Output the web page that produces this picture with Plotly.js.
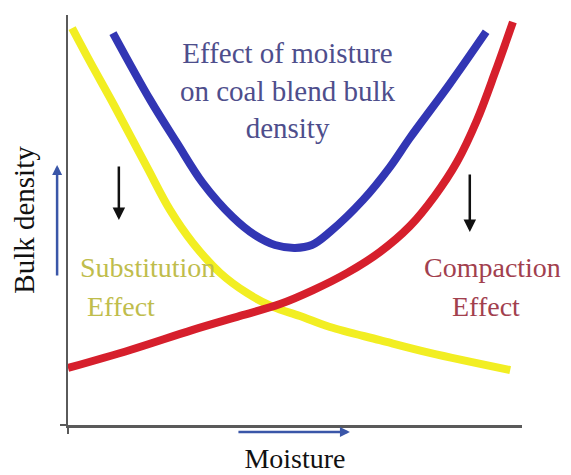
<!DOCTYPE html>
<html>
<head>
<meta charset="utf-8">
<script src="https://cdn.plot.ly/plotly-3.0.1.min.js"></script>
<style>html,body{margin:0;padding:0;background:#fff;}#chart{width:571px;height:475px;}</style>
</head>
<body>
<div id="chart"></div>
<script>
// Conceptual curves (moisture 0-10, bulk density 0-10)
const yellowX = [0.09, 0.49, 1.00, 1.74, 2.25, 2.75, 3.35, 3.94, 4.52, 5.11, 5.77, 6.87, 7.97, 9.74];
const yellowY = [9.68, 8.85, 7.83, 6.29, 5.24, 4.44, 3.71, 3.22, 2.88, 2.66, 2.39, 2.07, 1.76, 1.34];

const blueX = [0.99, 1.81, 2.40, 2.97, 3.63, 4.12, 4.56, 5.00, 5.37, 5.77, 6.50, 7.09, 7.53, 8.41, 9.21];
const blueY = [9.56, 7.93, 6.88, 5.90, 5.07, 4.63, 4.39, 4.32, 4.39, 4.71, 5.49, 6.29, 7.00, 8.32, 9.59];

const redX = [0.00, 1.37, 2.75, 3.79, 4.67, 5.40, 6.15, 6.87, 7.53, 8.08, 8.57, 9.01, 9.41, 9.80];
const redY = [1.39, 1.83, 2.32, 2.66, 2.95, 3.29, 3.71, 4.22, 4.85, 5.59, 6.42, 7.44, 8.61, 9.83];

const titleLines = ["Effect of moisture", "on coal blend bulk", "density"];
const xTitle = "Moisture";
const yTitle = "Bulk density";

const serif = "Liberation Serif, Times New Roman, serif";
const axisColor = "#5a5a5a";

const traces = [
  {x: yellowX, y: yellowY, mode: "lines", line: {color: "#f2ee22", width: 8, shape: "spline"}, name: "Substitution effect", hoverinfo: "none"},
  {x: redX, y: redY, mode: "lines", line: {color: "#d61f2c", width: 8, shape: "spline"}, name: "Compaction effect", hoverinfo: "none"},
  {x: blueX, y: blueY, mode: "lines", line: {color: "#3236b4", width: 8, shape: "spline"}, name: "Bulk density", hoverinfo: "none"}
];

const layout = {
  width: 571, height: 475,
  margin: {l: 68, r: 49, t: 15, b: 50},
  paper_bgcolor: "#ffffff", plot_bgcolor: "#ffffff",
  showlegend: false,
  font: {family: serif, color: "#111"},
  xaxis: {range: [0, 10], showgrid: false, zeroline: false, showline: true, linecolor: axisColor, linewidth: 2.5,
          ticks: "outside", tickvals: [0], ticklen: 6, tickwidth: 2.5, tickcolor: axisColor, showticklabels: false,
          title: {text: xTitle, font: {family: serif, size: 28, color: "#111"}, standoff: 16}},
  yaxis: {range: [0, 10], showgrid: false, zeroline: false, showline: true, linecolor: axisColor, linewidth: 2.5,
          ticks: "outside", tickvals: [0], ticklen: 6, tickwidth: 2.5, tickcolor: axisColor, showticklabels: false,
          title: {text: yTitle, font: {family: serif, size: 29, color: "#111"}, standoff: 17}},
  annotations: [
    {xref: "paper", yref: "paper", x: 0.485, y: 0.817, xanchor: "center", yanchor: "middle",
     text: titleLines.join("<br>"), showarrow: false,
     align: "center", font: {family: serif, size: 29, color: "#4e4e8c"}},
    {xref: "paper", yref: "paper", x: 0.022, y: 0.383, xanchor: "left", yanchor: "middle", text: "Substitution", showarrow: false,
     font: {family: serif, size: 28, color: "#bfbd4c"}},
    {xref: "paper", yref: "paper", x: 0.037, y: 0.288, xanchor: "left", yanchor: "middle", text: "Effect", showarrow: false,
     font: {family: serif, size: 28, color: "#bfbd4c"}},
    {xref: "paper", yref: "paper", x: 0.936, y: 0.383, xanchor: "center", yanchor: "middle", text: "Compaction", showarrow: false,
     font: {family: serif, size: 28, color: "#a2404e"}},
    {xref: "paper", yref: "paper", x: 0.921, y: 0.288, xanchor: "center", yanchor: "middle", text: "Effect", showarrow: false,
     font: {family: serif, size: 28, color: "#a2404e"}},
    // black downward arrows
    {xref: "paper", yref: "paper", x: 0.112, y: 0.50, ax: 0, ay: -55, text: "", showarrow: true,
     arrowhead: 2, arrowsize: 1, arrowwidth: 2.5, arrowcolor: "#111"},
    {xref: "paper", yref: "paper", x: 0.885, y: 0.471, ax: 0, ay: -59, text: "", showarrow: true,
     arrowhead: 2, arrowsize: 1, arrowwidth: 2.5, arrowcolor: "#111"},
    // blue axis direction arrows
    {xref: "paper", yref: "paper", x: -0.024, y: 0.634, ax: 0, ay: 112, text: "", showarrow: true,
     arrowhead: 2, arrowsize: 0.8, arrowwidth: 2.5, arrowcolor: "#3a56a8"},
    {xref: "paper", yref: "paper", x: 0.621, y: -0.017, ax: -113, ay: 0, text: "", showarrow: true,
     arrowhead: 2, arrowsize: 0.8, arrowwidth: 2.5, arrowcolor: "#3a56a8"}
  ]
};

Plotly.newPlot("chart", traces, layout, {staticPlot: true, displayModeBar: false});
</script>
</body>
</html>
